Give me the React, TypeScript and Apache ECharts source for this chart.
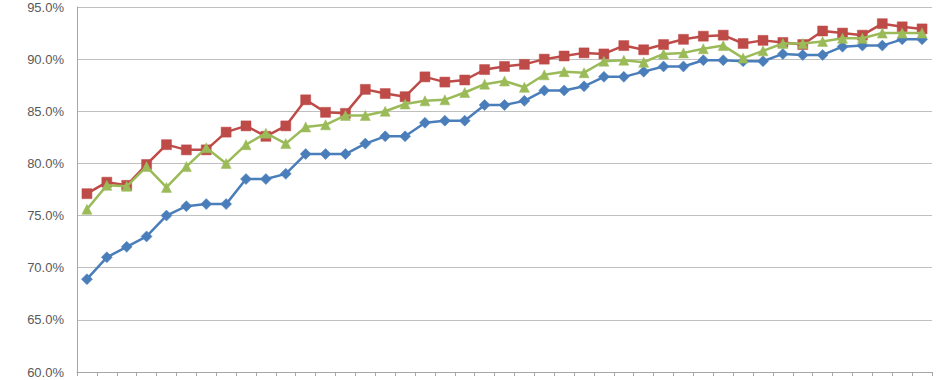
import React, { useEffect, useRef } from "react";
import * as echarts from "echarts";

const categories: string[] = Array.from({ length: 43 }, (_, i) => String(i + 1));

const blueSeries: number[] = [
  68.9, 71.0, 72.0, 73.0, 75.0, 75.9, 76.1, 76.1, 78.5, 78.5,
  79.0, 80.9, 80.9, 80.9, 81.9, 82.6, 82.6, 83.9, 84.1, 84.1,
  85.6, 85.6, 86.0, 87.0, 87.0, 87.4, 88.3, 88.3, 88.8, 89.3,
  89.3, 89.9, 89.9, 89.8, 89.8, 90.5, 90.4, 90.4, 91.2, 91.3,
  91.3, 91.9, 91.9,
];

const redSeries: number[] = [
  77.1, 78.2, 77.9, 79.9, 81.8, 81.3, 81.3, 83.0, 83.6, 82.6,
  83.6, 86.1, 84.9, 84.8, 87.1, 86.7, 86.4, 88.3, 87.8, 88.0,
  89.0, 89.3, 89.5, 90.0, 90.3, 90.6, 90.5, 91.3, 90.9, 91.4,
  91.9, 92.2, 92.3, 91.5, 91.8, 91.6, 91.4, 92.7, 92.5, 92.3,
  93.4, 93.1, 92.9,
];

const greenSeries: number[] = [
  75.6, 77.9, 77.8, 79.7, 77.7, 79.7, 81.5, 80.0, 81.8, 82.9,
  81.9, 83.5, 83.7, 84.6, 84.6, 85.0, 85.7, 86.0, 86.1, 86.8,
  87.6, 87.9, 87.3, 88.5, 88.8, 88.7, 89.8, 89.9, 89.7, 90.5,
  90.6, 91.0, 91.3, 90.1, 90.8, 91.5, 91.5, 91.7, 92.0, 92.0,
  92.5, 92.5, 92.5,
];

const yTicks = { min: 60, max: 95, interval: 5 };

export default function App() {
  const ref = useRef<HTMLDivElement>(null);

  useEffect(() => {
    if (!ref.current) return;
    const chart = echarts.init(ref.current, null, { renderer: "svg" });
    const mk = (name: string, data: number[], color: string, symbol: string, size: number, z: number) => ({
      name,
      type: "line",
      data,
      symbol,
      symbolSize: size,
      z,
      lineStyle: { color, width: 2.5 },
      itemStyle: { color, borderColor: color, borderWidth: 0.5 },
    });
    chart.setOption({
      animation: false,
      backgroundColor: "#ffffff",
      grid: { left: 77, right: 19, top: 7, bottom: 8, containLabel: false },
      xAxis: {
        type: "category",
        data: categories,
        boundaryGap: true,
        axisLine: { show: true, lineStyle: { color: "#a6a6a6", width: 1 } },
        axisTick: { show: true, alignWithLabel: false, length: 4, lineStyle: { color: "#a6a6a6" } },
        axisLabel: { show: false },
        splitLine: { show: false },
      },
      yAxis: {
        type: "value",
        min: yTicks.min,
        max: yTicks.max,
        interval: yTicks.interval,
        axisLine: { show: true, lineStyle: { color: "#a6a6a6", width: 1 } },
        axisTick: { show: false },
        axisLabel: {
          formatter: (v: number) => v.toFixed(1) + "%",
          color: "#595959",
          fontSize: 13,
          fontFamily: "Liberation Sans, Arial, sans-serif",
          margin: 13,
        },
        splitLine: { show: true, lineStyle: { color: "#bfbfbf", width: 1 } },
      },
      series: [
        mk("Blue", blueSeries, "#4a7ebb", "diamond", 11, 2),
        mk("Green", greenSeries, "#9bbb59", "triangle", 10, 3),
        mk("Red", redSeries, "#be4b48", "rect", 10, 1),
      ],
    });
    return () => chart.dispose();
  }, []);

  return (
    <div
      ref={ref}
      style={{ position: "fixed", left: 0, top: 0, width: 951, height: 380 }}
    />
  );
}
